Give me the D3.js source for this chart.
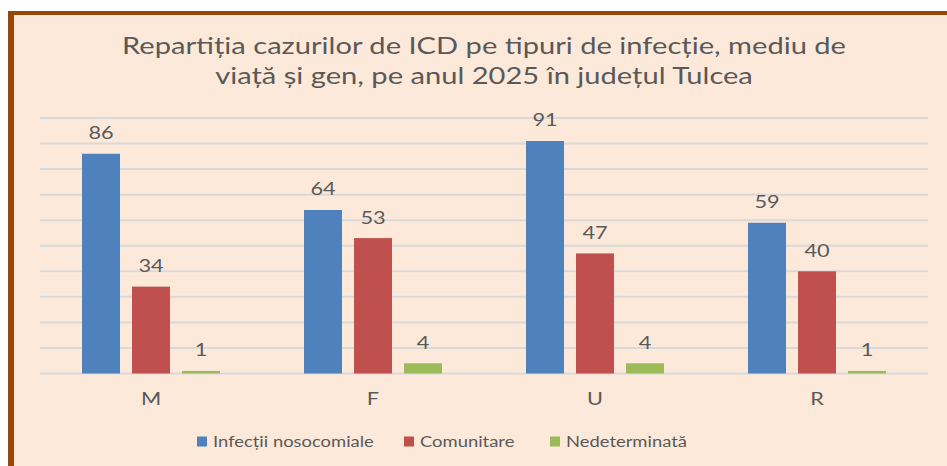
<!DOCTYPE html>
<html><head><meta charset="utf-8">
<script src="https://cdn.jsdelivr.net/npm/d3@7"></script>
<style>body{margin:0;background:#fff;} svg{display:block;}</style>
</head><body>
<svg id="c" width="947" height="466"></svg>
<script>
const categories = ["M", "F", "U", "R"];
const seriesNames = ["Infecții nosocomiale", "Comunitare", "Nedeterminată"];
const nosocomiale = [86, 64, 91, 59];
const comunitare = [34, 53, 47, 40];
const nedeterminata = [1, 4, 4, 1];
const yTicks = [0, 10, 20, 30, 40, 50, 60, 70, 80, 90, 100];
const titleLines = ["Repartiția cazurilor de ICD pe tipuri de infecție, mediu de",
                    "viață și gen, pe anul 2025 în județul Tulcea"];
const colors = ["#4F81BD", "#C0504D", "#9BBB59"];

const series = [nosocomiale, comunitare, nedeterminata];
const FONT = "Lato, 'Open Sans', sans-serif";
const TXT = "#595959";
const SX = 1.28;
const SXL = 1.15;

const svg = d3.select("#c");
// border + background
svg.append("rect").attr("x", 8).attr("y", 11).attr("width", 1000).attr("height", 1000).attr("fill", "#974706");
svg.append("rect").attr("x", 14).attr("y", 15).attr("width", 1000).attr("height", 1000).attr("fill", "#FDE9D9");

const x0 = d3.scaleBand().domain(categories).range([40, 928]).paddingInner(0).paddingOuter(0);
const x1 = d3.scaleBand().domain(seriesNames).range([0, x0.bandwidth()]).paddingInner(0.24).paddingOuter(0.84);
const y = d3.scaleLinear().domain([0, 100]).range([373.5, 118]);

// gridlines
svg.append("g").selectAll("line").data(yTicks).join("line")
  .attr("x1", 40).attr("x2", 928)
  .attr("y1", d => y(d)).attr("y2", d => y(d))
  .attr("stroke", "#D9D9D9").attr("stroke-width", 2);

// bars
const groups = svg.append("g").selectAll("g").data(categories).join("g")
  .attr("transform", c => `translate(${x0(c)},0)`);
groups.each(function(c, ci) {
  const g = d3.select(this);
  seriesNames.forEach((s, si) => {
    const v = series[si][ci];
    g.append("rect")
      .attr("x", x1(s)).attr("width", x1.bandwidth())
      .attr("y", y(v)).attr("height", y(0) - y(v))
      .attr("fill", colors[si]);
    g.append("g")
      .attr("transform", `translate(${x1(s) + x1.bandwidth() / 2},${y(v) - 14.5}) scale(${SX},1)`)
      .append("text").attr("text-anchor", "middle")
      .attr("font-family", FONT).attr("font-size", 17).attr("fill", TXT)
      .text(v);
  });
});

// category axis labels
svg.append("g").selectAll("g").data(categories).join("g")
  .attr("transform", c => `translate(${x0(c) + x0.bandwidth() / 2},405) scale(${SX},1)`)
  .append("text").attr("text-anchor", "middle")
  .attr("font-family", FONT).attr("font-size", 17).attr("fill", TXT)
  .text(c => c);

// title
const tg = svg.append("g");
const t1 = tg.append("g").attr("transform", `translate(484,54) scale(${SX},1)`)
  .append("text").attr("text-anchor", "middle").attr("font-family", FONT)
  .attr("font-size", 20).attr("fill", TXT).text(titleLines[0]);
const w1 = t1.node().getComputedTextLength();
const tfs = 20 * 724 / (w1 * SX);
t1.attr("font-size", tfs);
tg.append("g").attr("transform", `translate(484,84) scale(${SX},1)`)
  .append("text").attr("text-anchor", "middle").attr("font-family", FONT)
  .attr("font-size", tfs).attr("fill", TXT).text(titleLines[1]);

// legend
const legendX = [197, 404, 550];
const lg = svg.append("g").selectAll("g").data(seriesNames).join("g");
lg.append("rect")
  .attr("x", (d, i) => legendX[i]).attr("y", 436.5)
  .attr("width", 10).attr("height", 10).attr("fill", (d, i) => colors[i]);
lg.append("g").attr("transform", (d, i) => `translate(${legendX[i] + 16},446.5) scale(${SXL},1)`)
  .append("text").attr("font-family", FONT).attr("font-size", 16).attr("fill", TXT)
  .text(d => d);
</script>
</body></html>
